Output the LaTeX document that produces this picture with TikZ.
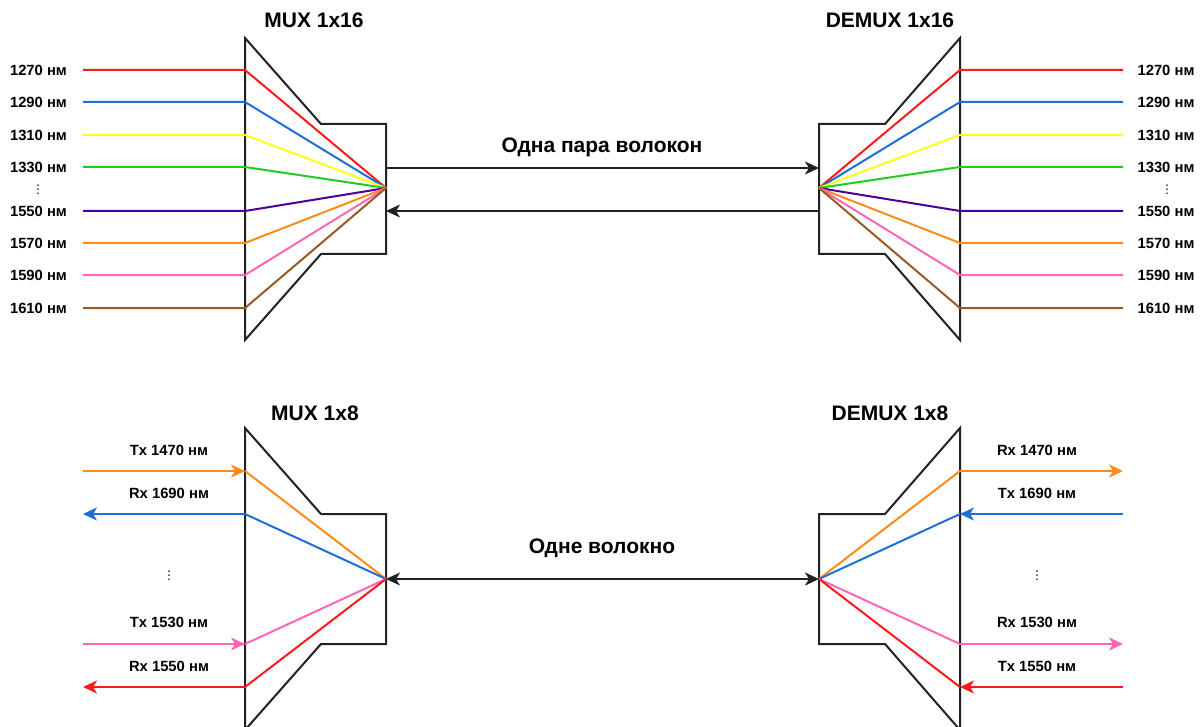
\documentclass[tikz,border=0pt]{standalone}
\usepackage{fontspec}
\setmainfont{Liberation Sans}
\newfontfamily\symfont{DejaVu Sans}
\usetikzlibrary{arrows.meta}
\definecolor{cRed}{HTML}{FF1A1A}
\definecolor{cBlue}{HTML}{1E6FD9}
\definecolor{cYellow}{HTML}{FFFF1A}
\definecolor{cGreen}{HTML}{22CC22}
\definecolor{cPurple}{HTML}{4C0099}
\definecolor{cOrange}{HTML}{FF8C1A}
\definecolor{cPink}{HTML}{FF66B3}
\definecolor{cBrown}{HTML}{995A26}
\definecolor{cBox}{HTML}{222222}
\begin{document}
\begin{tikzpicture}[x=1pt,y=-1pt,
  boxline/.style={draw=cBox,line width=2pt,line join=miter},
  fib/.style={line width=2pt},
  tip/.style={-{Stealth[length=14pt,width=13pt,inset=4pt]}},
  smalllbl/.style={font=\bfseries\fontsize{14.8}{16}\selectfont,inner sep=0pt},
  title/.style={font=\bfseries\fontsize{21}{23}\selectfont,inner sep=0pt},
  midlbl/.style={font=\bfseries\fontsize{21}{23}\selectfont,inner sep=0pt},
  dots/.style={font=\symfont\fontsize{12}{12}\selectfont,inner sep=0pt}]
\useasboundingbox (0,0) rectangle (1201,727);
\fill[white] (0,0) rectangle (1201,727);

% ---------- top MUX / DEMUX shapes ----------
\draw[boxline] (245,38) -- (321,124) -- (386,124) -- (386,254) -- (321,254) -- (245,340) -- cycle;
\draw[boxline] (960,38) -- (885,124) -- (819,124) -- (819,254) -- (885,254) -- (960,340) -- cycle;
\coordinate (fL) at (386,188);
\coordinate (fR) at (819,188);

\node[title] (t1) at (314,20) {MUX 1x16};
\node[title] (t2) at (890,20) {DEMUX 1x16};

% wavelengths
\foreach \n/\y/\c/\lab in {a/70/cRed/1270, b/102/cBlue/1290, c/135/cYellow/1310, d/167/cGreen/1330,
   e/211/cPurple/1550, f/243/cOrange/1570, g/275/cPink/1590, h/308/cBrown/1610}{
  \coordinate (L\n0) at (83,\y);
  \coordinate (L\n1) at (245,\y);
  \coordinate (R\n0) at (1123,\y);
  \coordinate (R\n1) at (960,\y);
  \draw[fib,draw=\c,line join=round] (L\n0) -- (L\n1) -- (fL);
  \draw[fib,draw=\c,line join=round] (R\n0) -- (R\n1) -- (fR);
  \node[smalllbl] (lt\n) at (38.5,\y) {\lab\ нм};
  \node[smalllbl] (rt\n) at (1166,\y) {\lab\ нм};
}
\node[dots] (dl) at (38,190) {⋮};
\node[dots] (dr) at (1167,190) {⋮};

\coordinate (aL1) at (386,168);
\coordinate (aR1) at (819,168);
\coordinate (aL2) at (386,211);
\coordinate (aR2) at (819,211);
\draw[boxline,tip] (aL1) -- (aR1);
\draw[boxline,tip] (aR2) -- (aL2);
\node[midlbl] (m1) at (602,147) {Одна пара волокон};

% ---------- bottom MUX / DEMUX shapes ----------
\draw[boxline] (245,428) -- (321,514) -- (386,514) -- (386,644) -- (321,644) -- (245,730) -- cycle;
\draw[boxline] (960,428) -- (885,514) -- (819,514) -- (819,644) -- (885,644) -- (960,730) -- cycle;
\coordinate (gL) at (386,579);
\coordinate (gR) at (819,579);

\node[title] (t3) at (315,413) {MUX 1x8};
\node[title] (t4) at (890,413) {DEMUX 1x8};

% left side
\coordinate (p10) at (83,471);  \coordinate (p11) at (245,471);
\coordinate (p20) at (83,514);  \coordinate (p21) at (245,514);
\coordinate (p30) at (83,644);  \coordinate (p31) at (245,644);
\coordinate (p40) at (83,687);  \coordinate (p41) at (245,687);
\draw[fib,draw=cOrange,tip] (p10) -- (p11);
\draw[fib,draw=cOrange] (p11) -- (gL);
\draw[fib,draw=cBlue,tip] (p21) -- (p20);
\draw[fib,draw=cBlue] (gL) -- (p21);
\draw[fib,draw=cPink,tip] (p30) -- (p31);
\draw[fib,draw=cPink] (p31) -- (gL);
\draw[fib,draw=cRed,tip] (p41) -- (p40);
\draw[fib,draw=cRed] (gL) -- (p41);

% right side
\coordinate (q10) at (1123,471);  \coordinate (q11) at (960,471);
\coordinate (q20) at (1123,514);  \coordinate (q21) at (960,514);
\coordinate (q30) at (1123,644);  \coordinate (q31) at (960,644);
\coordinate (q40) at (1123,687);  \coordinate (q41) at (960,687);
\draw[fib,draw=cOrange] (gR) -- (q11);
\draw[fib,draw=cOrange,tip] (q11) -- (q10);
\draw[fib,draw=cBlue,tip] (q20) -- (q21);
\draw[fib,draw=cBlue] (q21) -- (gR);
\draw[fib,draw=cPink] (gR) -- (q31);
\draw[fib,draw=cPink,tip] (q31) -- (q30);
\draw[fib,draw=cRed,tip] (q40) -- (q41);
\draw[fib,draw=cRed] (q41) -- (gR);

\node[smalllbl] (b1) at (169,450) {Tx 1470 нм};
\node[smalllbl] (b2) at (169,493) {Rx 1690 нм};
\node[dots] (b0) at (169,576) {⋮};
\node[smalllbl] (b3) at (169,622) {Tx 1530 нм};
\node[smalllbl] (b4) at (169,666) {Rx 1550 нм};

\node[smalllbl] (c1) at (1037,450) {Rx 1470 нм};
\node[smalllbl] (c2) at (1037,493) {Tx 1690 нм};
\node[dots] (c0) at (1037,576) {⋮};
\node[smalllbl] (c3) at (1037,622) {Rx 1530 нм};
\node[smalllbl] (c4) at (1037,666) {Tx 1550 нм};

\draw[boxline,{Stealth[length=14pt,width=13pt,inset=4pt]}-{Stealth[length=14pt,width=13pt,inset=4pt]}] (gL) -- (gR);
\node[midlbl] (m2) at (602,548) {Одне волокно};
\end{tikzpicture}
\end{document}
